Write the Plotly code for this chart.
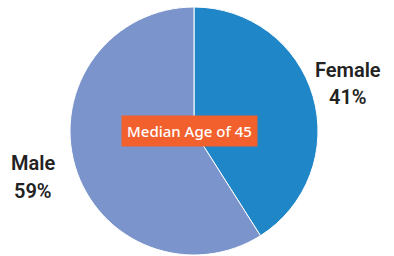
import plotly.graph_objects as go

labels = ["Female", "Male"]
values = [41, 59]
colors = ["#1f86c8", "#7b94cb"]
center_text = "Median Age of 45"

W, H = 394, 256
fig = go.Figure(go.Pie(
    labels=labels, values=values, sort=False, direction="clockwise", rotation=0,
    marker=dict(colors=colors, line=dict(color="white", width=1)),
    textinfo="none", hoverinfo="label+percent", showlegend=False,
    domain=dict(x=[70 / W, 318 / W], y=[1 / H, 1 - 7 / H]),
))

font_lbl = dict(family="Roboto, Noto Sans, sans-serif", size=20, color="#222222", weight=600)
positions = {"Female": (348, 70, 97), "Male": (33, 163, 191)}
for lab, val in zip(labels, values):
    x, y1, y2 = positions[lab]
    for txt, yy in ((lab, y1), (f"{val}%", y2)):
        fig.add_annotation(x=x / W, y=1 - yy / H, xref="paper", yref="paper",
                           xanchor="center", yanchor="middle",
                           text=txt, showarrow=False, font=font_lbl)

fig.add_annotation(x=189 / W, y=1 - 131 / H, xref="paper", yref="paper",
                   xanchor="center", yanchor="middle",
                   text=center_text, showarrow=False,
                   font=dict(family="Noto Sans, Open Sans, sans-serif", size=15, color="white", weight=500),
                   bgcolor="#f2612d", borderpad=5)

fig.update_layout(width=W, height=H, margin=dict(l=0, r=0, t=0, b=0),
                  paper_bgcolor="white", plot_bgcolor="white")
fig.write_html("out.html", config={"displayModeBar": False},
               post_script="document.body.style.margin='0';")
